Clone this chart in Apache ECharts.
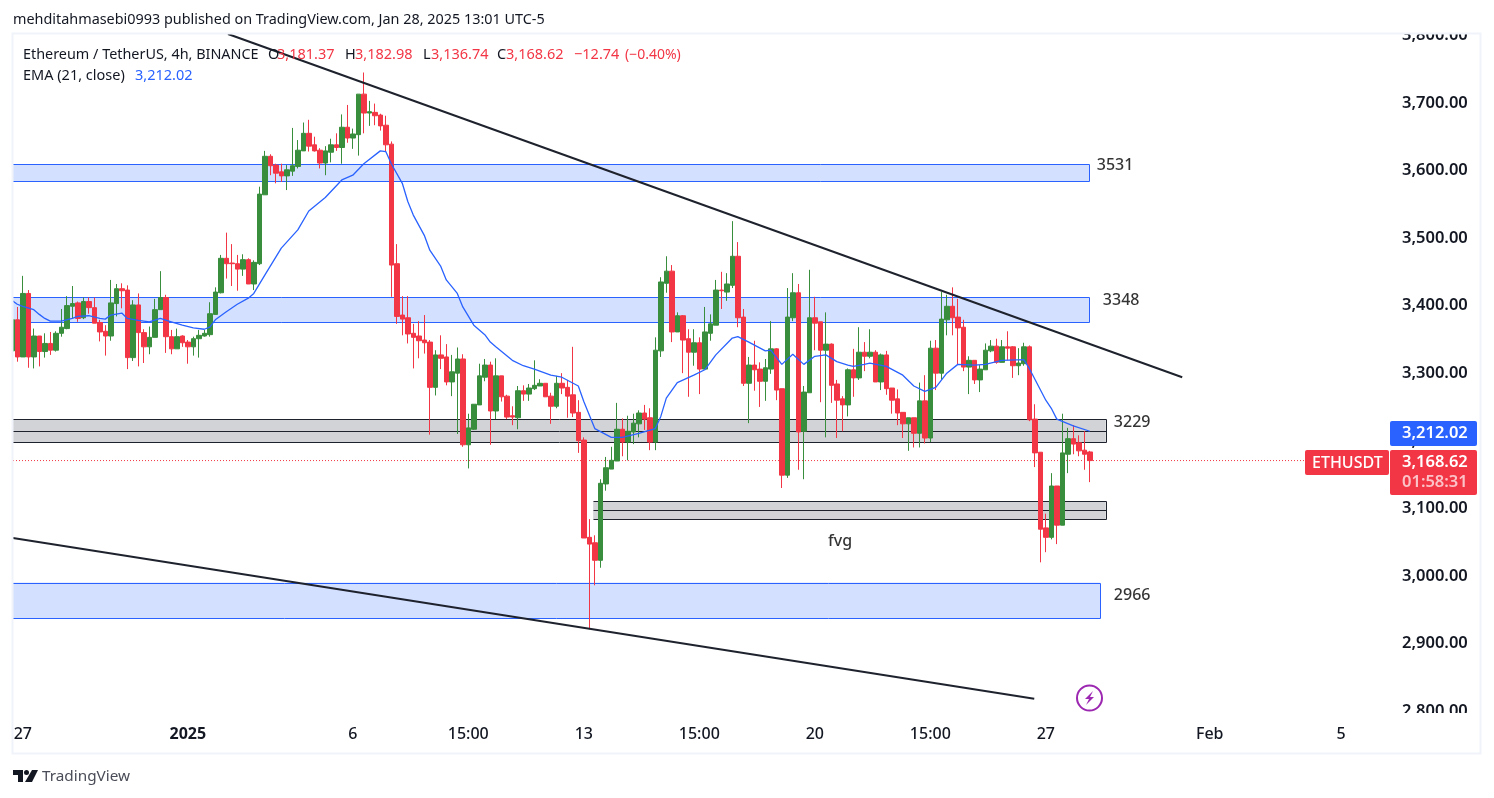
<!DOCTYPE html>
<html>
<head>
<meta charset="utf-8">
<title>ETHUSDT 4h</title>
<script src="https://cdn.jsdelivr.net/npm/echarts@6/dist/echarts.min.js"></script>
<style>
html,body{margin:0;padding:0;background:#fff;}
#main{width:1494px;height:798px;}
</style>
</head>
<body>
<div id="main"></div>
<script>
// candles, oldest first (bar 196 comes from the header)
var opens = [3331,3377,3322,3416,3322,3353,3330,3342,3332,3357,3364,3397,3402,3380,3404,3395,3373,3360,3353,3401,3423,3421,3321,3399,3358,3337,3351,3392,3410,3352,3334,3353,3344,3337,3349,3353,3355,3385,3417,3468,3461,3460,3452,3466,3430,3460,3562,3619,3606,3596,3590,3597,3604,3627,3653,3636,3628,3609,3625,3636,3632,3662,3646,3651,3711,3683,3684,3680,3665,3637,3460,3384,3380,3357,3353,3347,3344,3277,3325,3322,3285,3298,3319,3192,3215,3251,3292,3310,3242,3294,3264,3235,3232,3272,3267,3275,3279,3283,3264,3249,3283,3277,3266,3240,3199,3055,3047,3021,3134,3156,3168,3215,3196,3211,3223,3239,3232,3196,3331,3431,3449,3359,3383,3349,3329,3343,3304,3357,3369,3421,3418,3428,3471,3381,3283,3310,3304,3286,3304,3334,3275,3147,3380,3417,3212,3269,3380,3374,3332,3341,3282,3260,3251,3303,3291,3329,3323,3329,3285,3325,3276,3260,3240,3223,3232,3209,3257,3202,3335,3298,3377,3397,3381,3366,3307,3317,3288,3303,3331,3338,3314,3337,3337,3309,3312,3337,3230,3181,3069,3055,3131,3073,3178,3201,3195,3184,3181.37];
var closes = [3377,3322,3416,3322,3353,3330,3342,3332,3357,3366,3398,3401,3379,3404,3395,3372,3359,3353,3402,3423,3420,3321,3399,3358,3337,3351,3392,3410,3352,3334,3352,3343,3337,3349,3354,3357,3386,3418,3468,3460,3460,3452,3466,3430,3462,3563,3619,3605,3594,3590,3599,3605,3628,3653,3634,3627,3609,3627,3636,3632,3662,3646,3652,3711,3683,3685,3679,3664,3636,3458,3382,3378,3356,3351,3346,3343,3277,3325,3320,3285,3300,3319,3192,3217,3252,3294,3310,3242,3294,3263,3233,3233,3272,3267,3276,3280,3283,3263,3249,3283,3276,3264,3239,3198,3054,3045,3021,3135,3158,3169,3215,3196,3212,3224,3239,3230,3196,3332,3433,3449,3359,3383,3347,3329,3343,3304,3359,3371,3421,3420,3430,3471,3380,3283,3310,3303,3286,3306,3334,3273,3147,3381,3417,3211,3270,3380,3372,3332,3341,3280,3258,3251,3303,3291,3329,3323,3329,3285,3325,3275,3258,3239,3223,3232,3209,3257,3202,3335,3298,3378,3397,3380,3365,3307,3317,3288,3304,3332,3338,3314,3337,3335,3309,3313,3337,3229,3180,3067,3055,3131,3073,3180,3201,3193,3183,3178,3168.62];
var lows = [3331,3315,3322,3306,3305,3308,3321,3325,3330,3352,3363,3379,3374,3378,3386,3372,3345,3324,3346,3382,3394,3304,3316,3308,3313,3326,3351,3392,3328,3326,3334,3337,3312,3324,3321,3352,3352,3385,3416,3438,3427,3420,3442,3430,3421,3458,3562,3591,3579,3581,3569,3590,3601,3627,3626,3626,3601,3591,3610,3627,3608,3639,3630,3620,3653,3664,3665,3657,3626,3411,3371,3354,3342,3305,3320,3327,3207,3265,3304,3280,3264,3208,3189,3157,3214,3251,3286,3192,3230,3256,3230,3221,3215,3257,3257,3273,3279,3263,3223,3246,3267,3232,3233,3180,3054,2919,2984,3010,3124,3156,3168,3175,3169,3193,3203,3214,3184,3184,3322,3417,3344,3359,3298,3263,3309,3267,3304,3346,3369,3393,3405,3424,3366,3279,3224,3272,3248,3257,3297,3258,3128,3143,3375,3155,3141,3269,3332,3255,3203,3254,3202,3212,3234,3263,3288,3301,3320,3285,3273,3266,3238,3221,3202,3183,3188,3188,3194,3196,3273,3288,3354,3354,3310,3301,3267,3282,3270,3303,3329,3312,3314,3317,3291,3295,3309,3227,3159,3018,3033,3052,3045,3073,3150,3178,3175,3155,3136.74];
var highs = [3380,3396,3442,3421,3364,3353,3357,3359,3360,3393,3412,3427,3404,3410,3410,3410,3377,3369,3436,3430,3431,3428,3406,3416,3363,3367,3408,3449,3414,3362,3364,3354,3347,3352,3362,3362,3403,3425,3473,3506,3489,3473,3474,3468,3465,3574,3627,3622,3608,3608,3606,3661,3643,3669,3673,3648,3631,3634,3645,3653,3681,3695,3660,3711,3743,3701,3697,3682,3679,3641,3489,3412,3412,3371,3375,3384,3347,3332,3354,3341,3325,3336,3326,3238,3252,3312,3319,3315,3320,3294,3266,3249,3279,3280,3282,3317,3289,3283,3269,3294,3298,3288,3337,3258,3203,3082,3058,3141,3174,3189,3254,3231,3235,3238,3243,3251,3246,3351,3440,3471,3458,3388,3384,3363,3363,3351,3396,3385,3436,3448,3446,3523,3492,3393,3322,3346,3314,3319,3375,3335,3275,3424,3446,3430,3279,3451,3411,3374,3388,3342,3288,3264,3305,3334,3366,3344,3363,3332,3327,3331,3276,3274,3240,3232,3232,3284,3295,3346,3347,3418,3414,3425,3408,3377,3323,3317,3310,3342,3347,3349,3347,3360,3338,3335,3343,3339,3252,3181,3090,3150,3131,3238,3217,3221,3206,3212,3182.98];

// EMA(21) traced by eye, only at these bars
var emaBars = [0,1,2,4,5,6,7,9,11,12,14,16,17,18,20,21,23,25,27,29,31,33,35,36,37,39,41,43,44,46,49,52,54,57,60,62,64,67,68,69,71,72,73,75,76,78,79,81,82,84,86,87,88,91,93,95,98,100,103,104,106,109,111,114,117,118,119,121,124,126,128,131,132,134,137,138,140,142,144,146,148,150,152,153,155,156,159,162,164,166,168,170,172,175,177,180,184,185,188,189,190,193,196];
var emaVals = [3406,3400,3397,3392,3385,3379,3375,3375,3379,3382,3383,3379,3378,3384,3387,3379,3376,3374,3379,3374,3369,3365,3363,3366,3377,3389,3400,3409,3416,3443,3483,3510,3538,3558,3584,3591,3608,3627,3626,3608,3579,3552,3532,3502,3480,3456,3436,3416,3396,3369,3355,3344,3337,3317,3309,3304,3295,3292,3279,3256,3216,3203,3203,3209,3216,3234,3261,3284,3295,3303,3325,3350,3352,3344,3331,3332,3311,3326,3311,3323,3325,3315,3310,3308,3311,3313,3308,3295,3279,3271,3277,3298,3311,3310,3311,3317,3318,3305,3258,3246,3230,3220,3212.02];

// drawn zones: first bar, last bar, upper price, lower price
var zoneStart = [0,0,0,0,105.7];
var zoneEnd   = [195.9,195.9,197.9,198.9,198.9];
var zoneTop   = [3607,3410,2988,3229.6,3108.3];
var zoneBot   = [3582,3373,2935,3195.6,3081.7];
var zoneGray  = [0,0,0,1,1];

// trend lines
var upperLine = [[39.3,3800],[212.8,3292]];
var lowerLine = [[0.2,3054],[185.9,2816]];

// notes on the chart
var noteText = ['3531','3348','3229','fvg','2966'];
var noteBar  = [200.6,201.7,203.7,150.6,203.7];
var notePrice = [3605.5,3406,3224.5,3048.5,2969.5];

// axis ticks
var priceTicks = [2800,2900,3000,3100,3200,3300,3400,3500,3600,3700,3800];
var timeTicks = [2,32,62,83,104,125,146,167,188,217.8,241.7];
var timeLabels = ['27','2025','6','15:00','13','15:00','20','15:00','27','Feb','5'];

var lastPrice = 3168.62;
var emaLast = 3212.02;

var UP = '#388E3C', DOWN = '#F23645', BLUE = '#2962FF', INK = '#131722', DARK = '#1E222D';
var FONT = '"Noto Sans", sans-serif';

var candles = opens.map(function (o, i) { return [i, o, closes[i], lows[i], highs[i]]; });
var ema = emaBars.map(function (b, i) { return [b, emaVals[i]]; });
var zones = zoneTop.map(function (t, i) { return [zoneStart[i], zoneEnd[i], t, zoneBot[i], zoneGray[i]]; });
var notes = noteText.map(function (t, i) { return { value: [noteBar[i], notePrice[i]], name: t }; });

function txt(x, y, s, color, size, weight) {
  return {
    type: 'text', x: x, y: y, z: 100, silent: true,
    style: { text: s, fill: color, font: (weight || 'normal') + ' ' + size + 'px ' + FONT, textVerticalAlign: 'middle' }
  };
}
function box(x, y, w, h, fill, r) {
  return { type: 'rect', z: 99, silent: true, shape: { x: x, y: y, width: w, height: h, r: r || 0 }, style: { fill: fill } };
}

var myChart = echarts.init(document.getElementById('main'), null, { renderer: 'canvas' });
myChart.setOption({
  animation: false,
  backgroundColor: '#fff',
  grid: { left: 13, top: 34, width: 1377, height: 679 },
  xAxis: {
    type: 'value', min: 0.22, max: 250.58,
    axisLine: { show: false }, axisTick: { show: false }, splitLine: { show: false },
    axisLabel: {
      customValues: timeTicks, margin: 13, color: INK, fontFamily: FONT, fontSize: 16, fontWeight: 500,
      hideOverlap: false, alignMinLabel: 'center', alignMaxLabel: 'center',
      formatter: function (v) {
        var s = timeLabels[timeTicks.indexOf(v)];
        return s === '2025' ? '{b|' + s + '}' : s;
      },
      rich: { b: { fontWeight: 'bold', fontFamily: FONT, fontSize: 16, color: INK } }
    }
  },
  yAxis: {
    type: 'value', position: 'right', min: 2795, max: 3800,
    axisLine: { show: false }, axisTick: { show: false }, splitLine: { show: false },
    axisLabel: {
      customValues: priceTicks, margin: 12, verticalAlign: 'top', lineHeight: 3,
      color: INK, fontFamily: FONT, fontSize: 16.5, fontWeight: 600,
      formatter: function (v) { return v.toLocaleString('en-US', { minimumFractionDigits: 2 }); }
    }
  },
  series: [
    {
      type: 'custom', z: 1, silent: true, data: zones,
      encode: { x: [0, 1], y: [2, 3] },
      renderItem: function (params, api) {
        var a = api.coord([api.value(0), api.value(2)]);
        var b = api.coord([api.value(1), api.value(3)]);
        var gray = api.value(4) === 1;
        var stroke = gray ? DARK : BLUE;
        var kids = [{
          type: 'rect', shape: { x: a[0], y: a[1], width: b[0] - a[0], height: b[1] - a[1] },
          style: { fill: gray ? '#D2D3D6' : 'rgba(41,98,255,0.2)' }
        }];
        var segs = [[a[0], a[1], b[0], a[1]], [a[0], b[1], b[0], b[1]], [b[0], a[1], b[0], b[1]]];
        if (gray) segs.push([a[0], (a[1] + b[1]) / 2, b[0], (a[1] + b[1]) / 2]);
        segs.forEach(function (s) {
          kids.push({
            type: 'line', shape: { x1: Math.round(s[0]) + 0.5, y1: Math.round(s[1]) + 0.5, x2: Math.round(s[2]) + 0.5, y2: Math.round(s[3]) + 0.5 },
            style: { stroke: stroke, lineWidth: 1 }
          });
        });
        return { type: 'group', children: kids };
      }
    },
    {
      type: 'candlestick', z: 2, silent: true, data: candles, barWidth: 5,
      itemStyle: { color: UP, color0: DOWN, borderColor: UP, borderColor0: DOWN, borderWidth: 1 }
    },
    {
      type: 'line', z: 3, silent: true, data: ema, symbol: 'none',
      lineStyle: { color: BLUE, width: 1.3 }
    },
    {
      type: 'line', z: 2, silent: true, symbol: 'none',
      data: [[0.22, lastPrice], [250.58, lastPrice]],
      lineStyle: { color: DOWN, width: 1, type: [1, 2] }
    },
    {
      type: 'line', z: 4, silent: true, data: upperLine, symbol: 'none',
      lineStyle: { color: DARK, width: 2 }
    },
    {
      type: 'line', z: 4, silent: true, data: lowerLine, symbol: 'none',
      lineStyle: { color: DARK, width: 2 }
    },
    {
      type: 'scatter', z: 5, silent: true, data: notes, symbolSize: 1,
      itemStyle: { color: 'rgba(0,0,0,0)' },
      label: { show: true, position: 'inside', formatter: '{b}', color: '#000', fontFamily: FONT, fontSize: 16, fontWeight: 500 }
    }
  ],
  graphic: [
    // covers so the first and last price labels are cut like the screenshot
    box(1380, 12, 100, 21, '#fff'),
    box(1392, 713, 88, 8, '#fff'),
    // first candle pokes out left of the frame
    box(0, 34, 12, 720, '#fff'),
    {
      type: 'rect', z: 100, silent: true, shape: { x: 12.5, y: 33.5, width: 1468, height: 720 },
      style: { fill: 'none', stroke: '#F0F3FA', lineWidth: 2 }
    },
    txt(13, 19.5, 'mehditahmasebi0993 published on TradingView.com, Jan 28, 2025 13:01 UTC-5', INK, 14.4),
    txt(23, 55, 'Ethereum / TetherUS, 4h, BINANCE', INK, 14.4),
    txt(268, 55, 'O', INK, 14.5), txt(277, 55, '3,181.37', DOWN, 14.5),
    txt(345, 55, 'H', INK, 14.5), txt(355, 55, '3,182.98', DOWN, 14.5),
    txt(423, 55, 'L', INK, 14.5), txt(431, 55, '3,136.74', DOWN, 14.5),
    txt(497, 55, 'C', INK, 14.5), txt(506, 55, '3,168.62', DOWN, 14.5),
    txt(574, 55, '\u221212.74', DOWN, 14.5), txt(625, 55, '(\u22120.40%)', DOWN, 14),
    txt(23, 76, 'EMA (21, close)', INK, 14.5),
    txt(135, 76, '3,212.02', BLUE, 14.5),
    // price tags on the right
    box(1390, 421, 87, 25, BLUE, 2),
    txt(1402, 433.5, emaLast.toFixed(2).replace('3212', '3,212'), '#fff', 16.5, 600),
    box(1305, 450, 84, 25, DOWN, 2),
    txt(1312, 463, 'ETHUSDT', '#fff', 16, 500),
    box(1390, 450, 87, 45, DOWN, 2),
    txt(1402, 462.5, lastPrice.toFixed(2).replace('3168', '3,168'), '#fff', 16.5, 600),
    txt(1402, 482.5, '01:58:31', 'rgba(255,255,255,0.7)', 16.5, 600),
    // bolt badge
    {
      type: 'circle', z: 100, silent: true, shape: { cx: 1089.5, cy: 698, r: 12.5 },
      style: { fill: '#fff', stroke: '#9C27B0', lineWidth: 2 }
    },
    {
      type: 'polygon', z: 101, silent: true,
      shape: { points: [[1093, 691], [1085, 699], [1089, 699], [1086, 705], [1094, 697], [1090, 697]] },
      style: { fill: '#9C27B0' }
    },
    // TradingView logo
    {
      type: 'polygon', z: 100, silent: true,
      shape: { points: [[13, 770], [23, 770], [23, 782], [18, 782], [18, 775], [13, 775]] },
      style: { fill: INK }
    },
    { type: 'circle', z: 100, silent: true, shape: { cx: 26.5, cy: 772.5, r: 2.5 }, style: { fill: INK } },
    {
      type: 'polygon', z: 100, silent: true,
      shape: { points: [[32, 770], [38, 770], [32, 782], [25, 782]] },
      style: { fill: INK }
    },
    txt(42, 776.5, 'TradingView', '#4A4D57', 15.3)
  ]
});
</script>
</body>
</html>
